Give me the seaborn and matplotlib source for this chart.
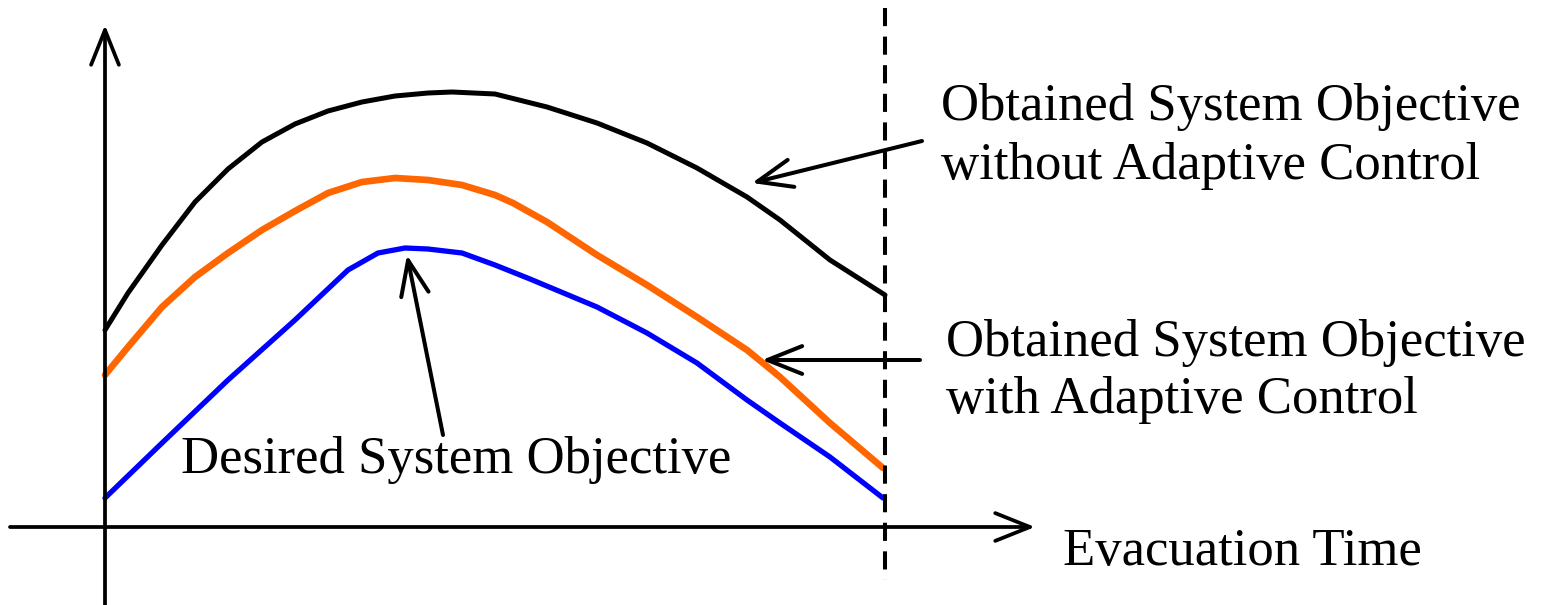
import pandas as pd
import seaborn as sns
import matplotlib.pyplot as plt

# schematic units: time measured from the y-axis, objective from the x-axis
time_without = [0, 23, 57, 90, 123, 157, 190, 223, 257, 290, 323,
                347, 390, 442, 492, 542, 592, 642, 675, 725, 780]
obj_without = [197, 234, 282, 325, 358, 385, 403, 416, 425, 431, 434,
               435, 433, 420, 404, 384, 359, 330, 307, 267, 232]

time_with = [0, 23, 57, 90, 123, 157, 190, 223, 257, 290, 323,
             357, 390, 408, 442, 492, 542, 592, 642, 675, 725, 778]
obj_with = [152, 180, 220, 250, 274, 297, 316, 334, 345, 349, 347,
            342, 332, 324, 305, 272, 242, 210, 177, 150, 104, 59]

time_desired = [0, 57, 123, 190, 243, 273, 300, 323, 357, 390, 425,
                492, 542, 592, 642, 675, 725, 778]
obj_desired = [29, 84, 147, 207, 257, 274, 279, 278, 274, 262, 248,
               220, 194, 164, 127, 104, 70, 29]

label_without = ["Obtained System Objective", "without Adaptive Control"]
label_with = ["Obtained System Objective", "with Adaptive Control"]
label_desired = "Desired System Objective"
x_label = "Evacuation Time"
end_time = 780

curves = [
    (time_without, obj_without, "#000000", 3.6),
    (time_with, obj_with, "#FF6600", 4.8),
    (time_desired, obj_desired, "#0000FF", 3.8),
]

sns.set_theme(style="white")
plt.rcParams["font.family"] = ["Liberation Serif", "DejaVu Serif"]
plt.rcParams["text.color"] = "black"

fig = plt.figure(figsize=(15.41, 6.05), dpi=100)
ax = fig.add_axes([0, 0, 1, 1])

for t, y, color, lw in curves:
    df = pd.DataFrame({"time": t, "objective": y})
    sns.lineplot(data=df, x="time", y="objective", color=color, linewidth=lw,
                 ax=ax, legend=False, sort=False,
                 solid_capstyle="round", solid_joinstyle="round")

ax.set_xlim(-105, 1436)
ax.set_ylim(-78, 527)
ax.axis("off")

# axes drawn as arrows
arrow = dict(arrowstyle="->,head_length=1.25,head_width=0.5", color="black",
             lw=2.7, shrinkA=0, shrinkB=0, mutation_scale=20,
             capstyle="round", joinstyle="round")
ax.annotate("", xy=(0, 502), xytext=(0, -78), arrowprops=arrow)
ax.annotate("", xy=(930, 0), xytext=(-95, 0), arrowprops=arrow)

# end of evacuation
ax.plot([end_time, end_time], [519, -53], color="black", lw=2.9,
        dashes=(4.5, 2.6))

# pointers
ptr = dict(arrow, lw=2.9)
ax.annotate("", xy=(647, 344), xytext=(817, 386), arrowprops=ptr)
ax.annotate("", xy=(657, 167), xytext=(815, 167), arrowprops=ptr)
ax.annotate("", xy=(302, 272), xytext=(338, 92), arrowprops=ptr)

fs = 38
ax.text(836, 407, label_without[0], fontsize=fs, va="baseline", color="black")
ax.text(836, 348, label_without[1], fontsize=fs, va="baseline", color="black")
ax.text(841, 171, label_with[0], fontsize=fs, va="baseline", color="black")
ax.text(841, 114, label_with[1], fontsize=fs, va="baseline", color="black")
ax.text(76, 54, label_desired, fontsize=fs, va="baseline", color="black")
ax.text(958, -38, x_label, fontsize=fs, va="baseline", color="black")

fig.savefig("out.png", dpi=100, facecolor="white")
